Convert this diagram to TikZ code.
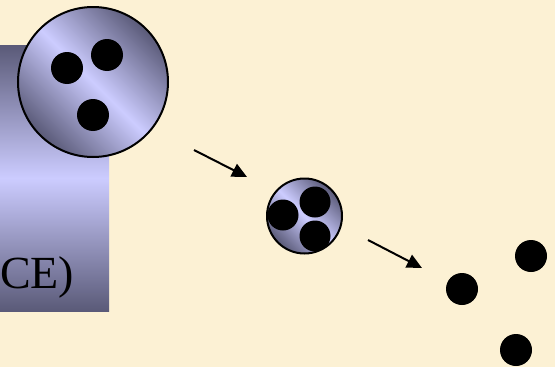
\documentclass[tikz,border=0pt]{standalone}
\usepackage{fontspec}
\setmainfont{Liberation Serif}
\usetikzlibrary{arrows.meta}
\definecolor{paper}{HTML}{FCF1D4}
\definecolor{shadedark}{HTML}{5A5A78}
\definecolor{shadelight}{HTML}{CCCCFF}
\tikzset{
  panel/.style={top color=shadedark, bottom color=shadedark, middle color=shadelight,
                inner sep=0pt, minimum width=109pt, minimum height=266pt, anchor=north west},
  ball/.style={circle, draw=black, line width=2pt, inner sep=0pt,
               top color=shadedark, bottom color=shadedark, middle color=shadelight, shading angle=-45},
  dot/.style={circle, fill=black, minimum size=32pt, inner sep=0pt},
  push/.style={-{Triangle[length=15pt, width=14pt]}, line width=2pt},
}

\begin{document}
\begin{tikzpicture}[x=1pt, y=-1pt]
  \fill[paper] (0,0) rectangle (555,367);
  \useasboundingbox (0,0) rectangle (555,367);
  \node[panel] (box) at (0,45) {};
  \node[font=\fontsize{46}{54}\selectfont, anchor=base west, inner sep=0pt] (lbl) at (0,288) {CE)};
  % big ball
  \node[ball, minimum size=150pt] (big) at (93,82) {};
  \foreach \x/\y [count=\i] in {67/68, 107/55, 93/115}{ \node[dot] (p\i) at (\x,\y) {}; }
  % small ball
  \node[ball, minimum size=75pt] (small) at (304.5,216) {};
  \foreach \x/\y [count=\i] in {283/215, 315/202, 315/236}{ \node[dot, minimum size=31pt] (q\i) at (\x,\y) {}; }
  % free dots
  \foreach \x/\y [count=\i] in {462/289, 531/256, 516/350}{ \node[dot] (r\i) at (\x,\y) {}; }
  \coordinate (s1) at (194,150); \coordinate (e1) at (247,177);
  \coordinate (s2) at (368,240); \coordinate (e2) at (422,268);
  \draw[push] (s1) -- (e1);
  \draw[push] (s2) -- (e2);
\end{tikzpicture}
\end{document}
